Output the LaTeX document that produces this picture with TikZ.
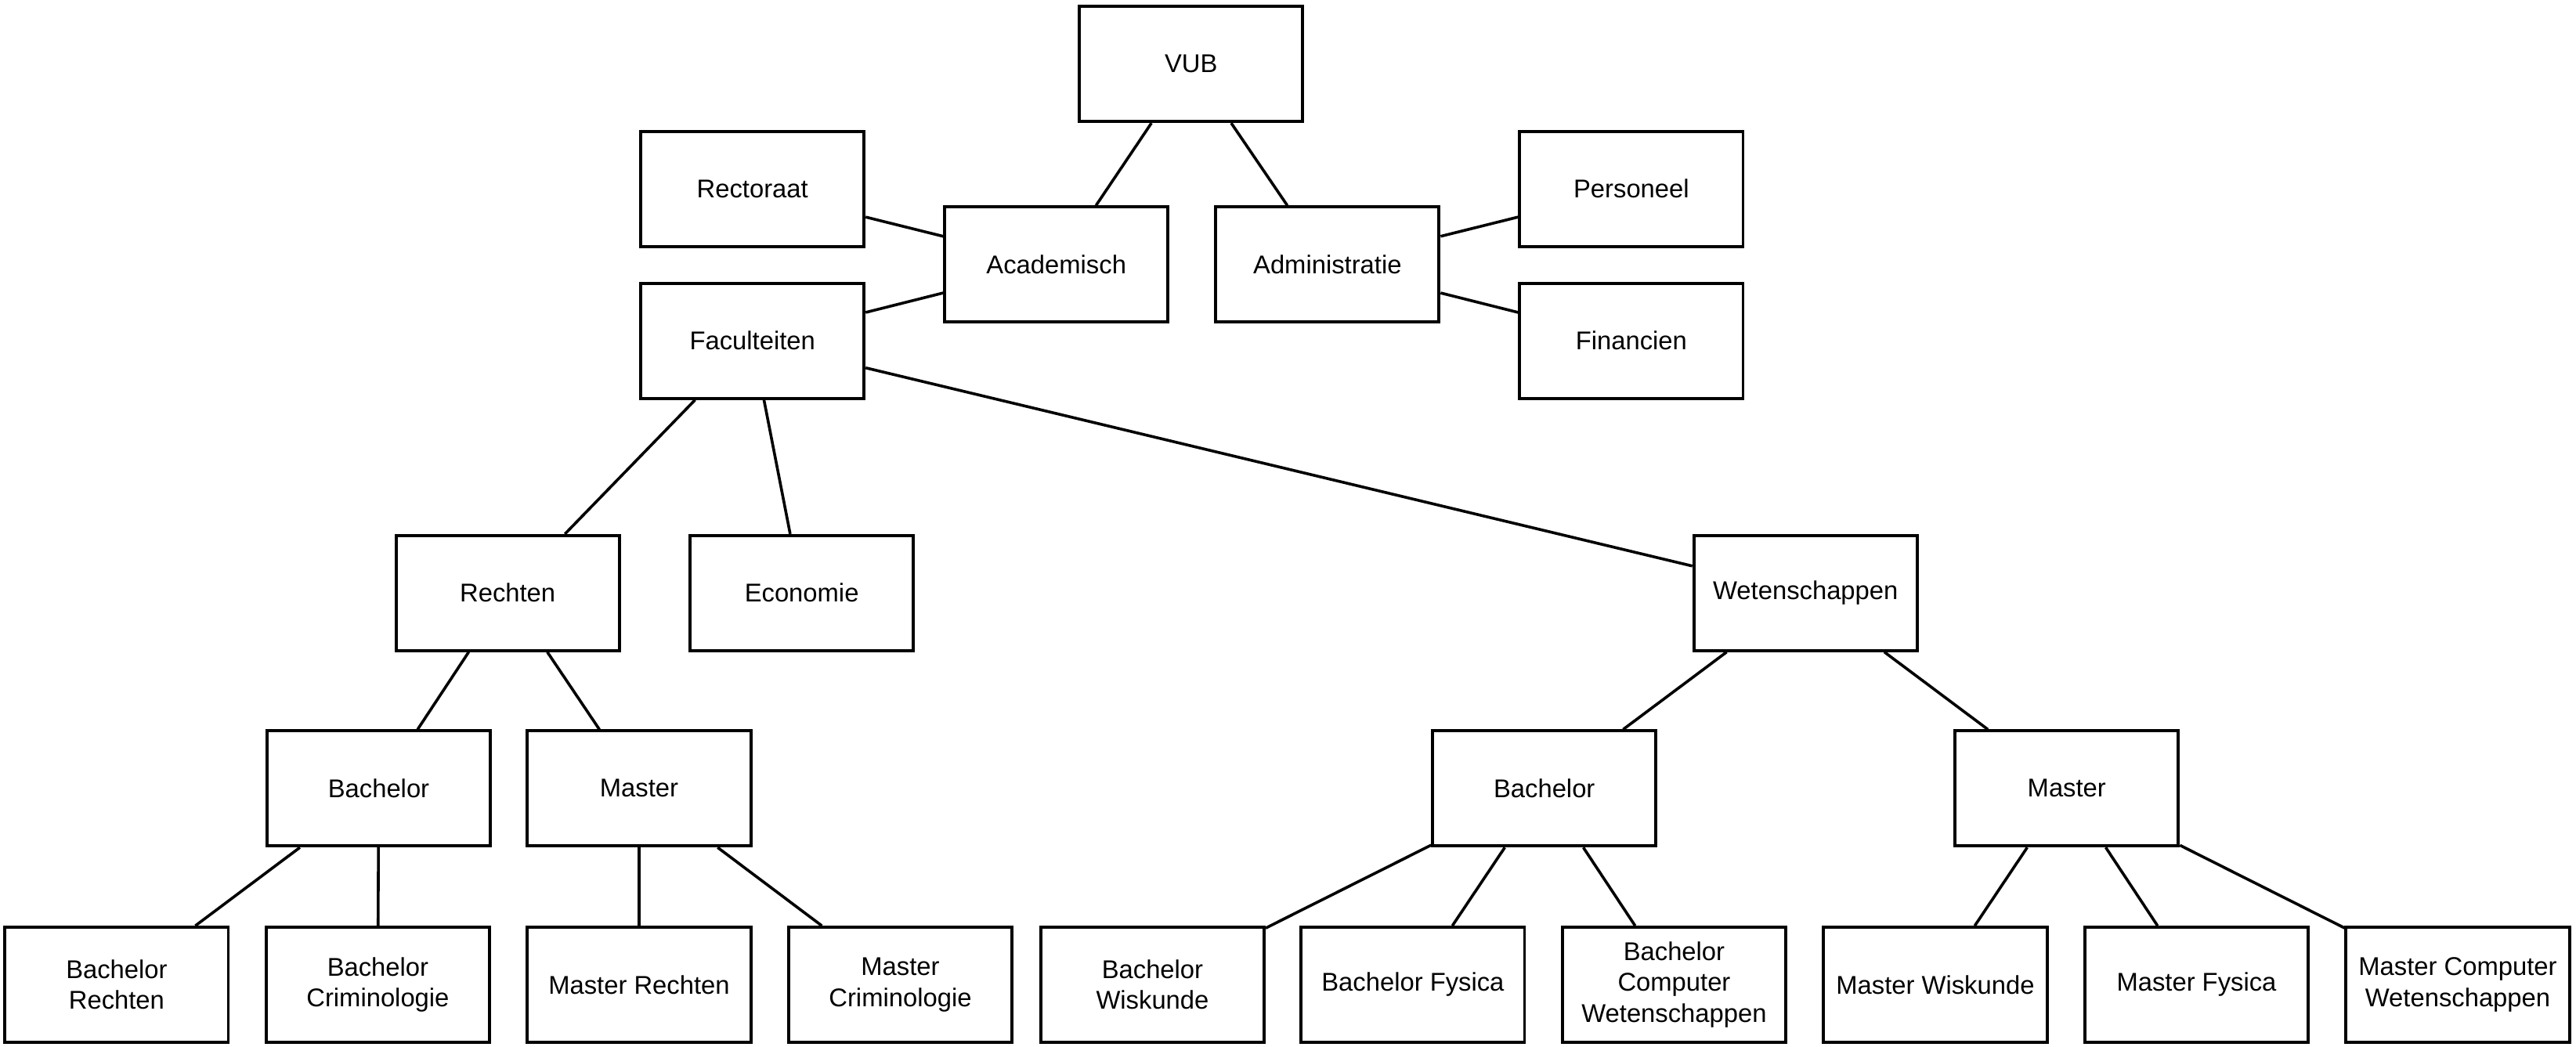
\documentclass[tikz,border=0pt]{standalone}
\usepackage{fontspec}
\setmainfont{Liberation Sans}
\begin{document}
\begin{tikzpicture}[x=0.64pt,y=-0.64pt,
		unit/.style={draw,line width=1.2pt,minimum width=87pt,minimum height=44.8pt,inner sep=0pt,align=center,font=\fontsize{10}{12}\selectfont},
		link/.style={line width=1.1pt}]
			\useasboundingbox (0,0) rectangle (1568,637);
			\node [unit] (vub) at (725,39) {VUB};
			\node [unit] (rectoraat) at (458,115) {Rectoraat};
			\node [unit] (academisch) at (643,161) {Academisch};
			\node [unit] (administratie) at (808,161) {Administratie};
			\node [unit] (personeel) at (993,115) {Personeel};
			\node [unit] (financien) at (993,207.5) {Financien};
			\node [unit] (faculteiten) at (458,207.5) {Faculteiten};
			\node [unit] (rechten) at (309,361) {Rechten};
			\node [unit] (economie) at (488,361) {Economie};
			\node [unit] (wetenschappen) at (1099,361) {Wetenschappen};
			\node [unit] (bachR) at (230.5,480) {Bachelor};
			\node [unit] (masR) at (389,480) {Master};
			\node [unit] (bachW) at (940,480) {Bachelor};
			\node [unit] (masW) at (1258,480) {Master};
			\node [unit] (bachRecht) at (71,599.5) {Bachelor\\Rechten};
			\node [unit] (bachCrim) at (230,599.5) {Bachelor\\Criminologie};
			\node [unit] (masRecht) at (389,599.5) {Master Rechten};
			\node [unit] (masCrim) at (548,599.5) {Master\\Criminologie};
			\node [unit] (bachWis) at (701.5,599.5) {Bachelor\\Wiskunde};
			\node [unit] (bachFys) at (860,599.5) {Bachelor Fysica};
			\node [unit] (bachCW) at (1019,599.5) {Bachelor\\Computer\\Wetenschappen};
			\node [unit] (masWis) at (1178,599.5) {Master Wiskunde};
			\node [unit] (masFys) at (1337,599.5) {Master Fysica};
			\node [unit] (masCW) at (1496,599.5) {Master Computer\\Wetenschappen};
			\draw [link] (vub) -- (academisch);
			\draw [link] (vub) -- (administratie);
			\draw [link] (academisch) -- (rectoraat);
			\draw [link] (academisch) -- (faculteiten);
			\draw [link] (administratie) -- (personeel);
			\draw [link] (administratie) -- (financien);
			\draw [link] (faculteiten) -- (rechten);
			\draw [link] (faculteiten) -- (economie);
			\draw [link] (faculteiten) -- (wetenschappen);
			\draw [link] (rechten) -- (bachR);
			\draw [link] (rechten) -- (masR);
			\draw [link] (bachR) -- (bachRecht);
			\draw [link] (bachR) -- (bachCrim);
			\draw [link] (masR) -- (masRecht);
			\draw [link] (masR) -- (masCrim);
			\draw [link] (wetenschappen) -- (bachW);
			\draw [link] (wetenschappen) -- (masW);
			\draw [link] (bachW) -- (bachWis);
			\draw [link] (bachW) -- (bachFys);
			\draw [link] (bachW) -- (bachCW);
			\draw [link] (masW) -- (masWis);
			\draw [link] (masW) -- (masFys);
			\draw [link] (masW) -- (masCW);
		\end{tikzpicture}
\end{document}
